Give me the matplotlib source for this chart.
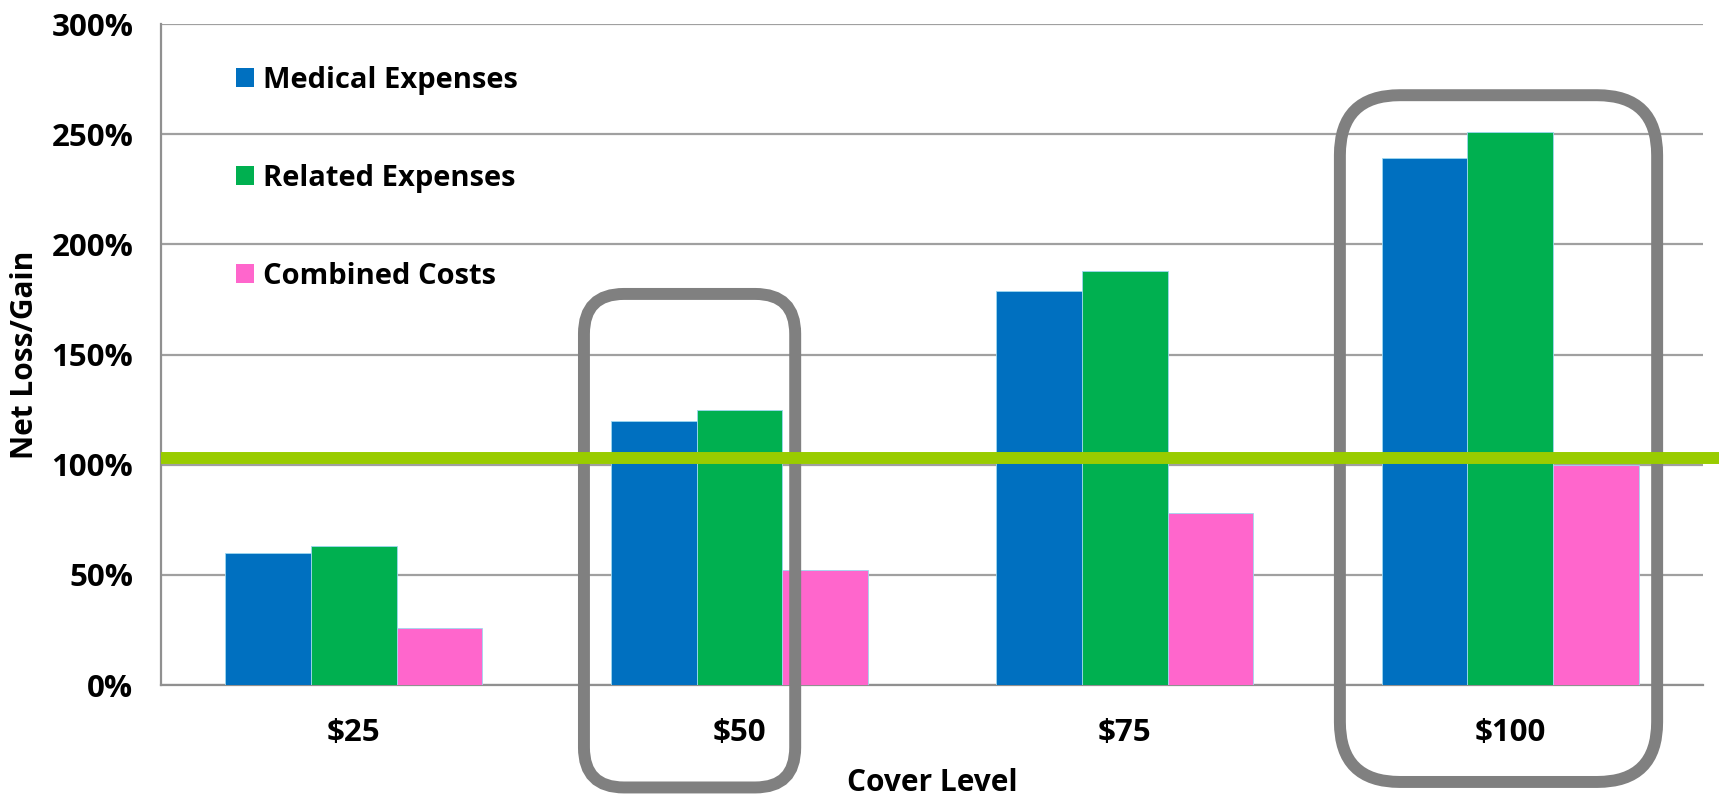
import numpy as np
import matplotlib
matplotlib.use("Agg")
import matplotlib.pyplot as plt
from matplotlib.patches import Patch, FancyBboxPatch
from matplotlib.lines import Line2D
from matplotlib.transforms import IdentityTransform

plt.rcParams['font.family'] = ['Open Sans', 'DejaVu Sans']
plt.rcParams['font.weight'] = 'bold'

# data
cover_levels = ['$25', '$50', '$75', '$100']
series_names = ['Medical Expenses', 'Related Expenses', 'Combined Costs']
medical = [60, 120, 179, 239]
related = [63, 125, 188, 251]
combined = [26, 52, 78, 100]
threshold = 103
y_ticks = [0, 50, 100, 150, 200, 250, 300]

colors = ['#0070C0', '#00B050', '#FF66CC']

fig = plt.figure(figsize=(17.19, 8.01), dpi=100)
ax = fig.add_axes([0.0937, 0.1448, 0.8970, 0.8252])

x = np.arange(len(cover_levels))
w = 0.222
for i, vals in enumerate([medical, related, combined]):
    ax.bar(x + (i - 1) * w, vals, width=w, color=colors[i],
           edgecolor='#9ED8F0', linewidth=0.6, zorder=3, label=series_names[i])

ax.set_xlim(-0.5, len(cover_levels) - 0.5)
ax.set_ylim(0, 300)
ax.set_yticks(y_ticks)
ax.set_yticklabels([f'{v}%' for v in y_ticks])
ax.set_xticks(x)
ax.set_xticklabels(cover_levels)
ax.tick_params(axis='both', length=0, labelsize=22.5)
ax.tick_params(axis='y', pad=20)
ax.tick_params(axis='x', pad=24)

ax.grid(axis='y', color='#A0A0A0', linewidth=1.6, zorder=0)
for s in ['top', 'right']:
    ax.spines[s].set_visible(False)
for s in ['left', 'bottom']:
    ax.spines[s].set_color('#909090')
    ax.spines[s].set_linewidth(1.6)

ax.set_ylabel('Net Loss/Gain', fontsize=21.5, fontweight='bold')
ax.yaxis.set_label_coords(-0.0787, 0.5)
ax.set_xlabel('Cover Level', fontsize=21.5, fontweight='bold', labelpad=14)

handles = [Patch(facecolor=c, edgecolor='none') for c in colors]
ax.legend(handles, series_names, loc='upper left', bbox_to_anchor=(0.0486, 0.937),
          frameon=False, handlelength=0.62, handleheight=0.62, handletextpad=0.3,
          labelspacing=2.37, borderpad=0, borderaxespad=0,
          prop={'size': 21, 'weight': 'bold'})

# highlight boxes (data coords: x0, x1, y0, y1, corner radius px)
boxes = [(0.597, 1.145, -46.5, 177.5, 40), (2.558, 3.381, -44, 267.7, 60)]
for x0, x1, y0, y1, r in boxes:
    (px0, py0), (px1, py1) = ax.transData.transform([(x0, y0), (x1, y1)])
    box = FancyBboxPatch((px0, py0), px1 - px0, py1 - py0,
                         boxstyle=f"round,pad=0,rounding_size={r}",
                         transform=IdentityTransform(), fill=False,
                         edgecolor='#808080', linewidth=8.6, zorder=5)
    fig.add_artist(box)

# threshold line runs from axis to the right edge of the figure
(lx, ly), = ax.transData.transform([(-0.5, threshold)])
fig.add_artist(Line2D([lx, fig.bbox.width], [ly, ly], transform=IdentityTransform(),
                      color='#99CC00', linewidth=8.6, zorder=6, solid_capstyle='butt'))

fig.savefig('out.png', dpi=100)
